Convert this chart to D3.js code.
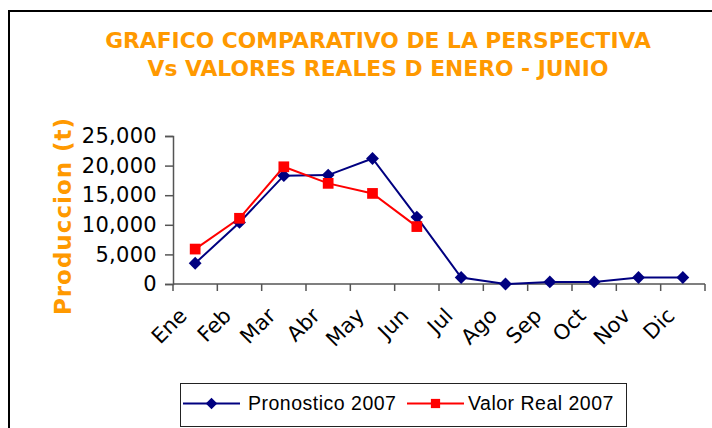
<!DOCTYPE html>
<html>
<head>
<meta charset="utf-8">
<script src="https://cdn.jsdelivr.net/npm/d3@7"></script>
<style>
  html, body { margin: 0; padding: 0; background: #fff; }
  #chart { width: 712px; height: 428px; }
</style>
</head>
<body>
<div id="chart"></div>
<script>
const MONTHS = ["Ene", "Feb", "Mar", "Abr", "May", "Jun", "Jul", "Ago", "Sep", "Oct", "Nov", "Dic"];
const PRONOSTICO = [3500, 10400, 18300, 18400, 21200, 11300, 1100, 0, 350, 350, 1100, 1100];
const VALOR_REAL = [5900, 11100, 19800, 17000, 15300, 9700];
const Y_TICKS = [0, 5000, 10000, 15000, 20000, 25000];
const TITLE_LINES = ["GRAFICO COMPARATIVO DE LA PERSPECTIVA", "Vs VALORES REALES D ENERO - JUNIO"];
const SERIES_NAMES = ["Pronostico 2007", "Valor Real 2007"];

const WIDTH = 712;
const HEIGHT = 428;
const PLOT = { left: 173, right: 705, top: 136, bottom: 284 };
const ORANGE = "#ff9900";
const NAVY = "#000080";
const RED = "#ff0000";
const AXIS = "#555";
const TICK_FONT = "'DejaVu Sans', Verdana, sans-serif";

const svg = d3
  .select("#chart")
  .append("svg")
  .attr("width", WIDTH)
  .attr("height", HEIGHT)
  .attr("viewBox", [0, 0, WIDTH, HEIGHT]);

// outer chart frame (runs off the right / bottom edge)
svg
  .append("rect")
  .attr("x", 9)
  .attr("y", 11)
  .attr("width", 720)
  .attr("height", 440)
  .attr("fill", "#fff")
  .attr("stroke", "#000")
  .attr("stroke-width", 2);

// title
svg
  .append("g")
  .selectAll("text")
  .data(TITLE_LINES)
  .join("text")
  .attr("x", 378)
  .attr("y", (d, i) => 47.5 + i * 28)
  .attr("text-anchor", "middle")
  .attr("font-family", TICK_FONT)
  .attr("font-weight", "bold")
  .attr("font-size", 21.8)
  .attr("fill", ORANGE)
  .text((d) => d);

const x = d3.scaleBand().domain(MONTHS).range([PLOT.left, PLOT.right]);
const y = d3.scaleLinear().domain([0, 25000]).range([PLOT.bottom, PLOT.top]);
const cx = (m) => x(m) + x.bandwidth() / 2;

// y axis
const yAxis = svg
  .append("g")
  .attr("transform", `translate(${PLOT.left},0)`)
  .call(
    d3
      .axisLeft(y)
      .tickValues(Y_TICKS)
      .tickFormat(d3.format(","))
      .tickSize(8)
      .tickPadding(8)
  );
yAxis.select(".domain").attr("stroke", AXIS).attr("stroke-width", 1.5);
yAxis.selectAll(".tick line").attr("stroke", AXIS).attr("stroke-width", 1.5);
yAxis
  .selectAll(".tick text")
  .attr("font-family", TICK_FONT)
  .attr("font-size", 21)
  .attr("letter-spacing", 0.3)
  .attr("fill", "#000");

// x axis: ticks sit on the category boundaries
const xAxis = svg.append("g").attr("transform", `translate(0,${PLOT.bottom})`);
xAxis
  .append("line")
  .attr("x1", PLOT.left)
  .attr("x2", PLOT.right)
  .attr("stroke", AXIS)
  .attr("stroke-width", 1.5);
xAxis
  .selectAll("line.tick")
  .data(MONTHS.map((m) => x(m)).concat([PLOT.right]))
  .join("line")
  .attr("class", "tick")
  .attr("x1", (d) => d)
  .attr("x2", (d) => d)
  .attr("y1", 0)
  .attr("y2", 7)
  .attr("stroke", AXIS)
  .attr("stroke-width", 1.5);
xAxis
  .selectAll("text")
  .data(MONTHS)
  .join("text")
  .attr("transform", (d) => `translate(${cx(d) - 7},33) rotate(-45)`)
  .attr("text-anchor", "end")
  .attr("font-family", TICK_FONT)
  .attr("font-size", 21)
  .attr("fill", "#000")
  .text((d) => d);

// y axis title
svg
  .append("text")
  .attr("transform", "translate(71,216) rotate(-90)")
  .attr("text-anchor", "middle")
  .attr("font-family", TICK_FONT)
  .attr("font-weight", "bold")
  .attr("font-size", 23)
  .attr("letter-spacing", 1)
  .attr("fill", ORANGE)
  .text("Produccion (t)");

const line = d3
  .line()
  .x((d) => cx(d.month))
  .y((d) => y(d.value));

const pron = PRONOSTICO.map((value, i) => ({ month: MONTHS[i], value }));
const real = VALOR_REAL.map((value, i) => ({ month: MONTHS[i], value }));

const diamond = d3.symbol().type(d3.symbolDiamond2).size(105);
const square = d3.symbol().type(d3.symbolSquare).size(115);

svg
  .append("path")
  .datum(pron)
  .attr("d", line)
  .attr("fill", "none")
  .attr("stroke", NAVY)
  .attr("stroke-width", 2);
svg
  .append("path")
  .datum(real)
  .attr("d", line)
  .attr("fill", "none")
  .attr("stroke", RED)
  .attr("stroke-width", 2);

svg
  .append("g")
  .selectAll("path")
  .data(pron)
  .join("path")
  .attr("transform", (d) => `translate(${cx(d.month)},${y(d.value)})`)
  .attr("d", diamond)
  .attr("fill", NAVY);
svg
  .append("g")
  .selectAll("path")
  .data(real)
  .join("path")
  .attr("transform", (d) => `translate(${cx(d.month)},${y(d.value)})`)
  .attr("d", square)
  .attr("fill", RED);

// legend
const legend = svg.append("g");
legend
  .append("rect")
  .attr("x", 180.5)
  .attr("y", 383.5)
  .attr("width", 446)
  .attr("height", 43)
  .attr("fill", "#fff")
  .attr("stroke", "#222")
  .attr("stroke-width", 1);

const LEGEND_X = [183, 407];
const legendColors = [NAVY, RED];
const legendSymbols = [d3.symbol().type(d3.symbolDiamond2).size(85), d3.symbol().type(d3.symbolSquare).size(85)];
const item = legend
  .selectAll("g.item")
  .data(SERIES_NAMES)
  .join("g")
  .attr("class", "item")
  .attr("transform", (d, i) => `translate(${LEGEND_X[i]},403.5)`);
item
  .append("line")
  .attr("x1", 0)
  .attr("x2", 57)
  .attr("stroke", (d, i) => legendColors[i])
  .attr("stroke-width", 2);
item
  .append("path")
  .attr("transform", "translate(28.5,0)")
  .attr("d", (d, i) => legendSymbols[i]())
  .attr("fill", (d, i) => legendColors[i]);
item
  .append("text")
  .attr("x", (d, i) => (i === 0 ? 65 : 61))
  .attr("y", 6.5)
  .attr("font-family", "'Liberation Sans', Arial, sans-serif")
  .attr("font-size", 19.5)
  .attr("letter-spacing", 0.5)
  .attr("fill", "#000")
  .text((d) => d);
</script>
</body>
</html>
